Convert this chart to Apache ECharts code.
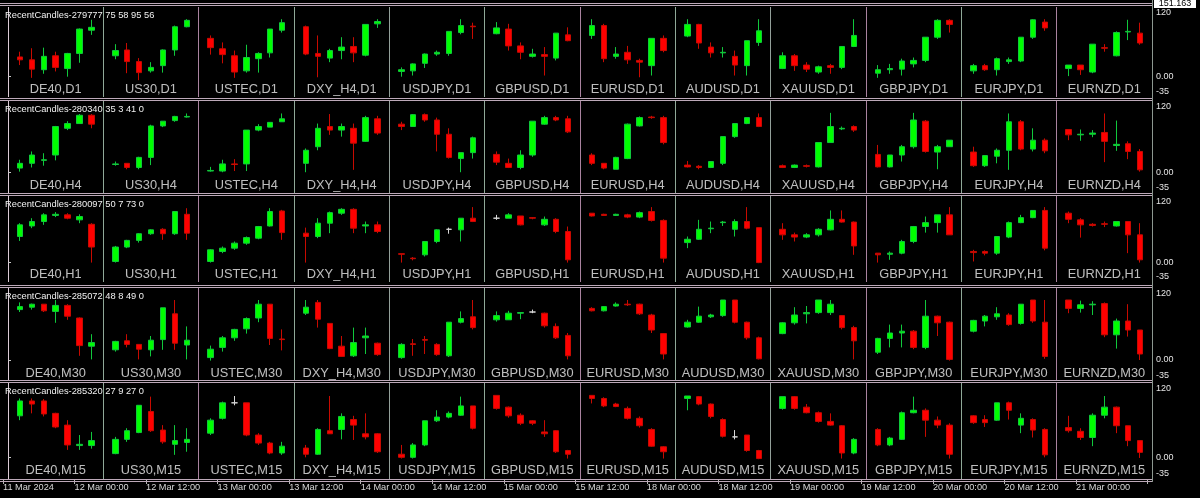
<!DOCTYPE html>
<html>
<head>
<meta charset="utf-8">
<script src="https://cdn.jsdelivr.net/npm/echarts@6/dist/echarts.min.js"></script>
<style>
html, body { margin: 0; padding: 0; background: #000; }
#chart { width: 1200px; height: 498px; }
</style>
</head>
<body>
<div id="chart"></div>
<script>
// symbols across, timeframes down
var symbols = ['DE40', 'US30', 'USTEC', 'DXY_H4', 'USDJPY', 'GBPUSD', 'EURUSD', 'AUDUSD', 'XAUUSD', 'GBPJPY', 'EURJPY', 'EURNZD'];
var timeframes = ['D1', 'H4', 'H1', 'M30', 'M15'];
var headers = [
    'RecentCandles-279777 75 58 95 56',
    'RecentCandles-280340 35 3 41 0',
    'RecentCandles-280097 50 7 73 0',
    'RecentCandles-285072 48 8 49 0',
    'RecentCandles-285320 27 9 27 0'
];
var timeLabels = ['11 Mar 2024', '12 Mar 00:00', '12 Mar 12:00', '13 Mar 00:00', '13 Mar 12:00',
    '14 Mar 00:00', '14 Mar 12:00', '15 Mar 00:00', '15 Mar 12:00', '18 Mar 00:00', '18 Mar 12:00',
    '19 Mar 00:00', '19 Mar 12:00', '20 Mar 00:00', '20 Mar 12:00', '21 Mar 00:00', ''];
var yLabels = [-35, 0, 120];

// [open, close, low, high], 7 candles per symbol
var candlesD1 = [
    [[34,29,20,43],[29,13,-2,49],[12,35,5,50],[36,16,9,43],[14,40,0,41],[40,82,24,83],[80,85,72,98]],
    [[36,45,30,56],[46,26,6,58],[26,7,-6,32],[10,16,7,25],[19,46,7,47],[46,86,36,88],[86,97,85,99]],
    [[66,50,38,71],[48,38,23,59],[36,8,-2,45],[10,33,7,55],[31,40,7,42],[41,82,33,82],[80,93,76,99]],
    [[86,39,37,88],[40,35,-1,71],[32,45,25,48],[45,51,30,68],[52,41,25,68],[37,90,35,90],[91,95,84,99]],
    [[9,12,0,16],[10,22,2,23],[23,39,15,40],[39,42,36,45],[40,78,36,78],[76,88,73,99],[87,86,65,93]],
    [[74,84,73,94],[82,53,45,91],[53,42,30,59],[35,39,33,48],[38,35,2,51],[32,75,28,75],[72,62,61,85]],
    [[71,88,65,99],[88,31,25,91],[35,39,31,51],[42,29,22,53],[28,25,-1,31],[19,66,2,66],[66,45,42,71]],
    [[70,90,68,99],[90,58,48,91],[51,41,33,59],[41,42,33,51],[35,20,2,45],[19,62,2,62],[59,79,53,99]],
    [[14,36,13,42],[36,19,10,39],[20,13,8,25],[8,17,5,19],[19,16,5,22],[16,52,13,52],[52,71,51,99]],
    [[6,12,-2,20],[12,14,5,22],[13,27,2,31],[22,28,16,33],[28,68,25,68],[68,97,65,99],[97,90,76,99]],
    [[10,19,5,22],[19,12,10,22],[12,31,2,33],[26,29,22,33],[27,68,25,68],[68,98,65,99],[94,84,79,99]],
    [[14,20,1,20],[20,12,3,20],[8,56,6,56],[50,49,43,56],[36,76,35,78],[77,78,63,98],[75,58,55,93]]
];
var candlesH4 = [
    [[7,15,1,21],[15,29,8,35],[20,21,11,32],[29,77,20,78],[74,82,71,86],[82,96,82,98],[96,81,74,98]],
    [[13,14,11,18],[15,8,5,15],[8,25,5,26],[25,78,12,80],[78,86,76,86],[87,94,85,95],[93,94,92,99]],
    [[2,3,1,9],[2,14,0,21],[14,13,2,22],[14,71,2,71],[71,77,69,81],[76,84,76,84],[85,90,85,99]],
    [[15,37,0,40],[43,74,37,82],[77,71,63,98],[71,77,60,82],[74,49,4,82],[52,92,51,95],[90,66,63,95]],
    [[81,77,71,85],[77,97,77,98],[97,88,85,99],[88,64,35,92],[64,25,23,74],[23,33,0,33],[33,58,23,60]],
    [[30,17,12,35],[15,8,7,23],[8,29,5,37],[29,86,26,86],[81,92,80,95],[92,88,86,95],[90,68,66,95]],
    [[29,15,12,32],[15,7,5,15],[5,25,5,26],[23,81,22,82],[78,92,77,94],[93,92,90,95],[92,50,47,95]],
    [[12,9,8,19],[10,8,5,12],[8,18,7,18],[15,60,12,60],[60,82,58,82],[82,92,81,92],[92,77,76,99]],
    [[11,8,7,13],[8,12,7,13],[11,10,8,13],[9,50,8,50],[50,77,50,100],[73,74,71,77],[77,71,68,79]],
    [[30,9,8,46],[9,29,8,29],[29,43,18,46],[43,88,40,100],[86,35,33,88],[34,43,5,46],[43,54,43,54]],
    [[34,11,9,43],[11,28,9,29],[27,37,15,40],[37,85,4,99],[85,39,37,88],[39,54,35,74],[54,36,32,57]],
    [[72,63,54,72],[63,64,53,72],[64,66,59,71],[67,52,17,99],[45,47,36,87],[48,35,22,52],[35,4,1,39]]
];
var candlesH1 = [
    [[47,68,39,71],[66,74,62,80],[74,86,68,89],[85,87,82,91],[86,80,78,89],[77,83,71,87],[69,28,0,71]],
    [[2,28,0,30],[28,40,26,41],[40,52,36,53],[52,59,50,60],[60,52,41,62],[52,92,50,92],[87,53,41,98]],
    [[2,23,0,24],[20,26,17,29],[26,35,23,38],[35,45,32,47],[44,65,42,66],[66,92,65,98],[93,54,41,95]],
    [[53,47,0,63],[47,71,44,80],[71,90,53,92],[89,96,86,98],[96,62,53,98],[66,68,53,74],[68,56,53,74]],
    [[16,15,0,16],[8,7,4,10],[14,38,11,38],[38,59,35,60],[60,60,52,63],[59,80,38,80],[80,74,73,100]],
    [[80,80,77,86],[80,86,80,89],[84,68,67,84],[81,80,78,82],[68,78,66,83],[78,56,53,80],[56,5,0,65]],
    [[89,84,83,89],[87,85,84,88],[85,87,84,88],[86,82,80,88],[82,90,80,92],[92,76,74,100],[76,8,0,78]],
    [[36,42,26,47],[42,60,41,77],[61,62,53,74],[72,73,66,75],[60,74,47,78],[74,62,60,100],[63,0,-1,63]],
    [[60,50,41,71],[50,46,38,54],[46,50,44,53],[50,60,47,62],[59,78,58,94],[78,73,72,94],[73,30,14,74]],
    [[17,14,0,17],[15,17,5,20],[17,38,15,41],[38,65,35,66],[65,72,54,83],[72,86,54,86],[86,50,50,100]],
    [[20,18,2,23],[20,17,13,22],[17,47,14,47],[46,72,44,74],[72,81,71,86],[81,94,80,94],[94,26,22,100]],
    [[89,78,71,92],[77,68,45,80],[69,67,65,71],[70,69,64,74],[66,74,65,74],[74,50,17,74],[50,5,0,71]]
];
var candlesM30 = [
    [[84,89,80,96],[88,93,84,94],[93,82,80,93],[81,91,62,100],[91,73,67,93],[70,24,7,71],[23,29,1,43]],
    [[17,31,14,32],[32,26,21,43],[26,18,1,26],[17,33,6,40],[34,87,17,87],[77,28,17,100],[25,33,1,56]],
    [[4,18,-1,24],[21,37,14,40],[37,51,32,52],[52,69,44,71],[70,93,63,100],[93,36,25,93],[35,34,16,51]],
    [[78,88,75,100],[96,68,54,100],[61,19,18,61],[23,6,5,40],[7,29,5,54],[37,40,10,54],[28,9,7,29]],
    [[4,26,2,28],[27,26,7,35],[34,33,10,40],[26,9,7,28],[7,63,5,63],[63,69,61,81],[72,54,51,100]],
    [[67,74,64,81],[67,78,67,82],[78,79,68,80],[80,80,78,84],[78,57,54,79],[56,37,35,61],[41,7,1,45]],
    [[86,82,81,88],[82,89,81,90],[90,93,89,96],[93,92,90,100],[93,77,75,94],[75,50,45,77],[44,10,1,45]],
    [[55,63,54,67],[63,73,62,89],[72,75,70,77],[74,100,72,100],[100,63,61,100],[63,37,34,64],[37,2,1,39]],
    [[44,62,43,63],[62,75,59,88],[77,79,61,90],[79,100,77,100],[79,93,75,100],[74,54,51,75],[54,32,1,57]],
    [[13,36,10,37],[36,45,21,59],[45,48,21,59],[48,21,18,50],[21,73,18,100],[73,62,40,74],[63,1,-1,64]],
    [[48,66,46,67],[65,73,56,75],[72,77,67,88],[75,59,57,78],[61,93,59,93],[100,65,62,100],[63,6,2,100]],
    [[100,86,78,100],[86,92,79,99],[92,93,75,98],[94,42,38,96],[42,65,19,69],[65,50,39,93],[50,10,0,50]]
];
var candlesM15 = [
    [[67,91,60,95],[91,86,71,95],[91,70,66,94],[71,49,47,72],[52,20,12,60],[19,21,12,36],[19,27,14,41]],
    [[6,29,5,33],[29,43,25,47],[40,84,39,84],[74,43,41,98],[44,25,22,52],[21,27,4,52],[24,29,9,47]],
    [[39,60,36,63],[63,88,61,90],[88,88,84,99],[88,36,34,88],[36,23,20,39],[23,7,5,25],[7,18,4,25]],
    [[15,5,0,20],[5,45,4,47],[43,38,38,99],[45,66,29,71],[61,52,28,67],[38,33,29,71],[38,9,7,39]],
    [[5,0,-2,20],[0,20,-2,23],[20,59,18,59],[59,65,57,76],[65,71,63,74],[68,83,67,98],[83,47,45,83]],
    [[100,79,77,100],[81,67,64,82],[68,55,52,71],[59,55,52,60],[41,38,33,60],[43,9,7,44],[11,5,-2,12]],
    [[100,95,87,100],[95,83,81,97],[86,82,81,88],[79,63,61,82],[63,51,48,66],[45,18,17,47],[17,9,-2,18]],
    [[95,99,76,99],[98,86,84,99],[86,66,63,87],[61,34,32,63],[33,33,29,44],[36,11,9,36],[11,-2,-3,12]],
    [[79,98,77,98],[98,79,77,99],[81,72,71,86],[72,58,56,74],[58,52,51,71],[51,7,-2,52],[7,29,5,31]],
    [[45,20,18,47],[20,31,18,33],[29,72,28,74],[72,76,71,98],[76,60,33,79],[60,52,47,66],[52,5,-2,55]],
    [[67,56,54,68],[61,56,49,68],[60,88,59,88],[88,76,61,90],[52,63,39,71],[61,44,32,63],[45,4,0,47]],
    [[48,43,40,67],[42,32,28,47],[32,68,18,71],[68,81,63,99],[81,51,39,82],[51,27,18,51],[27,8,-1,27]]
];
var rows = [candlesD1, candlesH4, candlesH1, candlesM30, candlesM15];

// layout of the five indicator windows
var rowTop = [7, 101, 196, 288, 383];
var rowHeight = [90, 92, 86, 93, 96];
var sepY = [3, 98, 193, 285, 380, 479];
var slots = 8; // 7 candles + gap per cell
var labelLevel = -22;
var font = 'Liberation Sans, Arial, sans-serif';
var splitColors = ['#dccbd6', '#8fa898', '#a9839f', '#8fa898', '#93a09a', '#8fa898', '#a9839f',
    '#8fa898', '#93a09a', '#a9839f', '#8fa898', '#a9839f', '#8c9890'];

var grids = [], xAxes = [], yAxes = [], series = [], graphics = [];

rows.forEach(function (cells, r) {
    grids.push({ left: 8, width: 1144, top: rowTop[r], height: rowHeight[r] });
    xAxes.push({
        gridIndex: r, type: 'value', min: 0, max: symbols.length * slots, interval: slots,
        axisLine: { show: false }, axisTick: { show: false }, axisLabel: { show: false },
        splitLine: { show: true, lineStyle: { color: splitColors, width: 1 } }
    });
    yAxes.push({
        gridIndex: r, type: 'value', position: 'right', min: -35, max: 120,
        splitLine: { show: false },
        axisLine: { show: false },
        axisTick: { show: true, customValues: [0], length: 3, lineStyle: { color: '#c8c8c8' } },
        axisLabel: {
            customValues: yLabels, margin: 4, color: '#e4e4e4', fontSize: 9, fontFamily: font,
            formatter: function (v) {
                if (v === 0) return '0.00';
                if (v > 0) return '{dn|' + v + '}';
                return '{up|' + v + '}';
            },
            rich: {
                dn: { padding: [11, 0, 0, 0], color: '#e4e4e4', fontSize: 9, fontFamily: font },
                up: { padding: [0, 0, 10, 0], color: '#e4e4e4', fontSize: 9, fontFamily: font }
            }
        }
    });

    var items = [];
    cells.forEach(function (candles, c) {
        candles.forEach(function (q, j) {
            var item = { value: [c * slots + j + 1, q[0], q[1], q[2], q[3]] };
            if (q[0] === q[1]) {
                item.itemStyle = { color: '#d8d8d8', color0: '#d8d8d8', borderColor: '#d8d8d8', borderColor0: '#d8d8d8' };
            }
            items.push(item);
        });
    });
    series.push({
        type: 'candlestick', xAxisIndex: r, yAxisIndex: r,
        barWidth: 6,
        encode: { x: 0, y: [1, 2, 3, 4] },
        itemStyle: { color: '#00ff00', color0: '#ff0000', borderColor: '#10c83c', borderColor0: '#c80a00', borderWidth: 1 },
        data: items
    });

    series.push({
        type: 'scatter', xAxisIndex: r, yAxisIndex: r, symbolSize: 0, silent: true,
        data: symbols.map(function (s, c) { return [c * slots + slots / 2, labelLevel]; }),
        label: {
            show: true, position: 'inside', color: '#ececec', fontSize: 12.8, fontFamily: font,
            formatter: function (p) { return symbols[p.dataIndex] + ',' + timeframes[r]; }
        }
    });

    graphics.push({
        type: 'text', x: 5, y: rowTop[r] + 8, z: 100,
        style: { text: headers[r], fill: '#f0f0f0', font: '9.3px ' + font, verticalAlign: 'middle' }
    });
});

// shared time axis under the last window
grids.push({ left: 2, width: 1145.6, top: 479, height: 1 });
xAxes.push({
    gridIndex: 5, type: 'category', data: timeLabels, boundaryGap: false, position: 'bottom',
    axisLine: { show: false },
    axisTick: { show: true, interval: 0, length: 4, lineStyle: { color: '#b4b4b4' } },
    axisLabel: { interval: 0, align: 'left', margin: 3, fontSize: 9.2, color: '#d8d8d8', fontFamily: font }
});
yAxes.push({ gridIndex: 5, type: 'value', show: false });

// window borders
sepY.forEach(function (y) {
    [0.5, 2.5].forEach(function (d) {
        graphics.push({
            type: 'line', z: 100,
            shape: { x1: 0, y1: y + d, x2: 1152, y2: y + d },
            style: { stroke: '#bda9b9', lineWidth: 1 }
        });
    });
});
graphics.push({
    type: 'line', z: 100,
    shape: { x1: 1152.5, y1: 0, x2: 1152.5, y2: 482 },
    style: { stroke: '#8c9890', lineWidth: 1 }
});
graphics.push({
    type: 'rect', z: 101,
    shape: { x: 1154, y: -2, width: 42, height: 10 },
    style: { fill: '#ffffff' }
});
graphics.push({
    type: 'text', x: 1175, y: 3.5, z: 102,
    style: { text: '151.163', fill: '#000000', font: '9px ' + font, align: 'center', verticalAlign: 'middle' }
});

var chart = echarts.init(document.getElementById('chart'));
chart.setOption({
    backgroundColor: '#000000',
    animation: false,
    grid: grids,
    xAxis: xAxes,
    yAxis: yAxes,
    series: series,
    graphic: graphics
});
</script>
</body>
</html>
